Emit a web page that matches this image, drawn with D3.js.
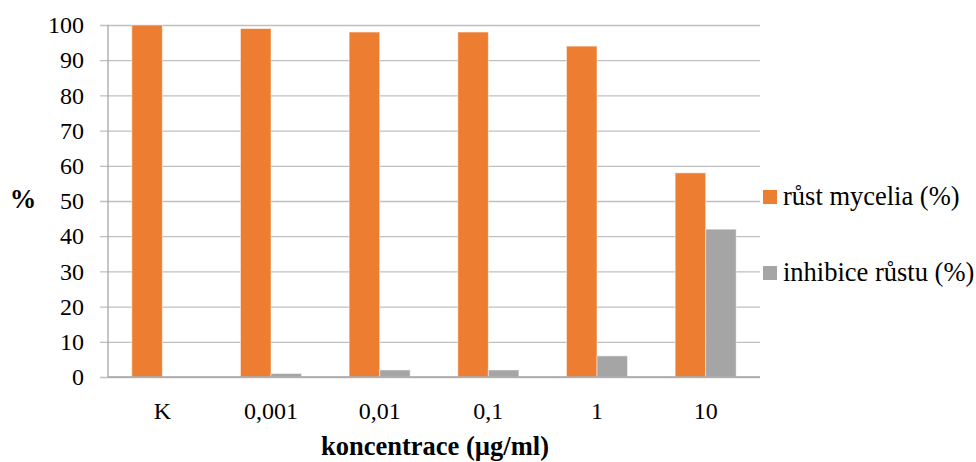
<!DOCTYPE html>
<html>
<head>
<meta charset="utf-8">
<script src="https://cdn.jsdelivr.net/npm/d3@7"></script>
<style>
  html, body { margin: 0; padding: 0; background: #fff; }
  svg { display: block; }
  svg text { font-family: "Liberation Serif", "Times New Roman", serif !important; fill: #000; }
</style>
</head>
<body>
<svg id="chart" width="976" height="462" font-family="Liberation Serif"></svg>
<script>
// Concentrations tested and the two measured series (%)
const categories = ["K", "0,001", "0,01", "0,1", "1", "10"];
const growth = [100, 99, 98, 98, 94, 58];      // růst mycelia (%)
const inhibition = [0, 1, 2, 2, 6, 42];        // inhibice růstu (%)
const yTicks = [0, 10, 20, 30, 40, 50, 60, 70, 80, 90, 100];
const seriesNames = ["růst mycelia (%)", "inhibice růstu (%)"];
const seriesColors = ["#ED7D31", "#A5A5A5"];

const svg = d3.select("#chart");
const m = { left: 108, right: 760, top: 25, bottom: 377 };

const x = d3.scaleBand().domain(categories).range([m.left, m.right]).paddingInner(0).paddingOuter(0);
const inner = d3.scaleBand().domain([0, 1]).range([0, x.bandwidth()]).paddingInner(0).paddingOuter(0.78);
const y = d3.scaleLinear().domain([0, 100]).range([m.bottom, m.top]);

// horizontal gridlines with short tick marks to the left
const yAxis = d3.axisLeft(y).tickValues(yTicks).tickSize(-(m.right - m.left + 8)).tickPadding(16);
const gy = svg.append("g").attr("transform", `translate(${m.left - 8},0)`).call(yAxis);
gy.attr("font-family", null);
gy.select(".domain").remove();
gy.selectAll(".tick line").attr("stroke", "#BFBFBF").attr("stroke-width", 1.3);
gy.selectAll(".tick text").attr("font-size", 24).attr("x", -16);

// vertical axis line
svg.append("line").attr("x1", m.left).attr("x2", m.left).attr("y1", m.top).attr("y2", m.bottom)
  .attr("stroke", "#A6A6A6").attr("stroke-width", 1.3);

// bars
const data = categories.map((c, i) => ({ c, vals: [growth[i], inhibition[i]] }));
const groups = svg.append("g").selectAll("g").data(data).join("g")
  .attr("transform", d => `translate(${x(d.c)},0)`);
groups.selectAll("rect").data(d => d.vals.map((v, k) => ({ v, k }))).join("rect")
  .attr("x", d => inner(d.k))
  .attr("width", inner.bandwidth())
  .attr("y", d => y(d.v))
  .attr("height", d => y(0) - y(d.v))
  .attr("fill", d => seriesColors[d.k])
  .attr("stroke", "#fff").attr("stroke-opacity", 0.5).attr("stroke-width", 1);

// baseline
svg.append("line").attr("x1", m.left).attr("x2", m.right).attr("y1", m.bottom).attr("y2", m.bottom)
  .attr("stroke", "#A6A6A6").attr("stroke-width", 1.5);

// category labels
const xAxis = d3.axisBottom(x).tickSize(0).tickPadding(25);
const gx = svg.append("g").attr("transform", `translate(0,${m.bottom})`).call(xAxis);
gx.attr("font-family", null);
gx.select(".domain").remove();
gx.selectAll(".tick text").attr("font-size", 24);

// axis titles
svg.append("text").attr("x", 435).attr("y", 455).attr("text-anchor", "middle")
  .attr("font-size", 26.5).attr("font-weight", "bold").text("koncentrace (µg/ml)");
svg.append("text").attr("x", 23).attr("y", 208).attr("text-anchor", "middle")
  .attr("font-size", 26.5).attr("font-weight", "bold").text("%");

// legend
const legend = svg.append("g").selectAll("g").data(seriesNames).join("g")
  .attr("transform", (d, i) => `translate(763,${190 + i * 76})`);
legend.append("rect").attr("width", 14).attr("height", 14).attr("fill", (d, i) => seriesColors[i]);
legend.append("text").attr("x", 20).attr("y", 15).attr("font-size", 26.5).text(d => d);
</script>
</body>
</html>
